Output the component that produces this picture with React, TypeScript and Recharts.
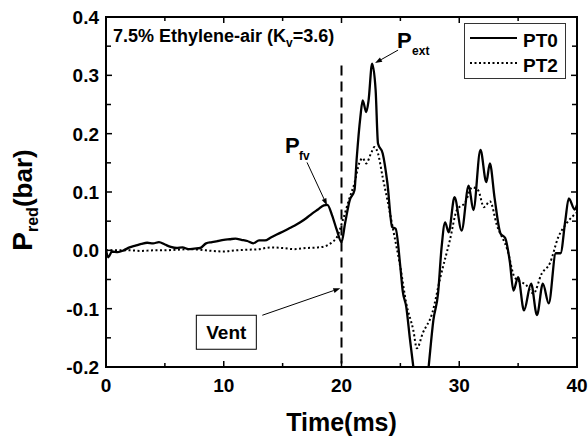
import React from 'react';
import {
  LineChart,
  Line,
  XAxis,
  YAxis,
  ReferenceLine,
  ReferenceArea,
  ReferenceDot,
  Legend,
  Label,
} from 'recharts';

// PT0 — solid trace (time in ms, pressure in bar)
const pt0Time = [
  0, 0.2, 0.5, 1, 1.5, 2, 2.5, 3, 3.5, 4, 4.5, 5, 5.5, 6, 6.5, 7, 7.5, 8, 8.5, 9, 9.5, 10, 10.5, 11,
  11.5, 12, 12.5, 13, 13.5, 14, 14.5, 15, 15.5, 16, 16.5, 17, 17.5, 18, 18.5, 18.8, 19.2, 19.6, 20.0,
  20.3, 20.7, 21.1, 21.3, 21.6, 21.8, 22.1, 22.3, 22.6, 22.9, 23.1, 23.5, 23.9, 24.3, 24.6, 25.0, 25.2,
  25.5, 25.8, 26.1, 26.6, 27.0, 27.4, 27.8, 28.2, 28.5, 28.8, 29.1, 29.6, 30.2, 30.8, 31.2, 31.8, 32.3,
  32.6, 33.0, 33.5, 33.9, 34.3, 34.6, 35.0, 35.5, 36.1, 36.6, 37.1, 37.6, 38.2, 38.6, 39.0, 39.3, 39.8,
  40,
];
const pt0Value = [
  0.0, -0.012, -0.002, -0.003, 0.0, 0.005, 0.008, 0.011, 0.013, 0.012, 0.014, 0.01, 0.006, 0.004, 0.005,
  0.002, 0.003, 0.004, 0.012, 0.014, 0.016, 0.018, 0.019, 0.02, 0.018, 0.016, 0.012, 0.017, 0.017, 0.022,
  0.027, 0.032, 0.037, 0.042, 0.048, 0.055, 0.063, 0.07, 0.077, 0.078, 0.06, 0.035, 0.014, 0.046, 0.086,
  0.103, 0.16, 0.228, 0.257, 0.237, 0.257, 0.32, 0.274, 0.183, 0.166, 0.115, 0.04, 0.037, -0.029, -0.07,
  -0.097, -0.15, -0.2, -0.27, -0.28, -0.2, -0.12, -0.074, 0.005, 0.048, 0.031, 0.091, 0.034, 0.111,
  0.069, 0.172, 0.117, 0.149, 0.09, 0.029, 0.021, -0.02, -0.069, -0.046, -0.103, -0.057, -0.111, -0.057,
  -0.091, -0.005, -0.005, 0.05, 0.089, 0.07, 0.078,
];

// PT2 — dotted trace
const pt2Time = [
  0, 1, 2, 3, 4, 5, 6, 7, 8, 9, 10, 11, 12, 13, 14, 15, 16, 17, 18, 18.6, 19.2, 19.6, 20.1, 20.7, 21.1,
  21.5, 21.8, 22.1, 22.5, 22.8, 23.1, 23.5, 23.9, 24.4, 25.0, 25.5, 26.1, 26.4, 26.9, 27.7, 28.4, 29.2,
  29.8, 30.5, 31.1, 31.6, 32.1, 32.6, 33.2, 34.1, 34.7, 35.7, 36.3, 37.0, 37.7, 38.4, 39.1, 40,
];
const pt2Value = [
  0.0, 0.0, 0.0, -0.001, 0.0, 0.0, 0.001, 0.002, 0.001, -0.001, -0.002, 0.0, 0.001, 0.002, 0.005, 0.004,
  0.002, 0.004, 0.005, 0.007, 0.014, 0.022, 0.051, 0.091, 0.115, 0.149, 0.158, 0.149, 0.166, 0.177,
  0.166, 0.125, 0.086, 0.034, -0.029, -0.091, -0.137, -0.168, -0.142, -0.108, -0.046, 0.017, 0.069,
  0.082, 0.108, 0.103, 0.074, 0.084, 0.043, 0.0, -0.046, -0.06, -0.074, -0.04, -0.022, 0.022, 0.046,
  0.065,
];

const xMajorTicks = [0, 10, 20, 30, 40];
const xMinorTicks = [5, 15, 25, 35];
const yMajorTicks = [-0.2, -0.1, 0, 0.1, 0.2, 0.3, 0.4];
const yMinorTicks = [-0.15, -0.05, 0.05, 0.15, 0.25, 0.35];
const seriesNames = ['PT0', 'PT2'];
const seriesDash = ['', '2 2.5'];

// annotation anchors
const ventTime = 20;
const ventTop = 0.317;
const ventArrowAt = { t: 19.9, p: -0.065 };
const extArrowAt = { t: 22.85, p: 0.321 };
const fvArrowAt = { t: 18.77, p: 0.077 };

const pt0Data = pt0Time.map((t, i) => ({ t, p: pt0Value[i] }));
const pt2Data = pt2Time.map((t, i) => ({ t, p: pt2Value[i] }));

const WIDTH = 580;
const HEIGHT = 431;
const PLOT_TOP = 9;
const PLOT_RIGHT = 569;
const FONT = '"Liberation Sans", Arial, Helvetica, sans-serif';

const isMajor = (v: number, list: number[]) => list.some((m) => Math.abs(m - v) < 1e-9);

function XTick({ x, y, payload }: any) {
  const v = payload.value;
  const major = isMajor(v, xMajorTicks);
  const len = major ? 6 : 4;
  return (
    <g>
      <line x1={x} y1={y} x2={x} y2={y - len} stroke="#000" strokeWidth={1.5} />
      <line x1={x} y1={PLOT_TOP} x2={x} y2={PLOT_TOP + len} stroke="#000" strokeWidth={1.5} />
      {major && (
        <text x={x} y={y + 25} textAnchor="middle" fontFamily={FONT} fontWeight="bold" fontSize={19} fill="#000">
          {v}
        </text>
      )}
    </g>
  );
}

function YTick({ x, y, payload }: any) {
  const v = payload.value;
  const major = isMajor(v, yMajorTicks);
  const len = major ? 6 : 5;
  return (
    <g>
      <line x1={x} y1={y} x2={x + len} y2={y} stroke="#000" strokeWidth={1.5} />
      <line x1={PLOT_RIGHT} y1={y} x2={PLOT_RIGHT - len} y2={y} stroke="#000" strokeWidth={1.5} />
      {major && (
        <text x={x - 7} y={y + 7} textAnchor="end" fontFamily={FONT} fontWeight="bold" fontSize={19} fill="#000">
          {v.toFixed(1)}
        </text>
      )}
    </g>
  );
}

function arrow(x1: number, y1: number, x2: number, y2: number) {
  const dx = x2 - x1;
  const dy = y2 - y1;
  const len = Math.hypot(dx, dy);
  const ux = dx / len;
  const uy = dy / len;
  const hl = 7;
  const hw = 2.5;
  const bx = x2 - ux * hl;
  const by = y2 - uy * hl;
  return (
    <g>
      <line x1={x1} y1={y1} x2={bx} y2={by} stroke="#000" strokeWidth={1} />
      <polygon
        points={`${x2},${y2} ${bx - uy * hw},${by + ux * hw} ${bx + uy * hw},${by - ux * hw}`}
        fill="#000"
      />
    </g>
  );
}

const txt = { fontFamily: FONT, fontWeight: 'bold' as const, fill: '#000' };

function TitleNote({ cx, cy }: any) {
  return (
    <text x={cx + 7} y={cy + 25} fontSize={18} {...txt}>
      7.5% Ethylene-air (K
      <tspan fontSize={12} dy={5}>v</tspan>
      <tspan dy={-5}>=3.6)</tspan>
    </text>
  );
}

function ExtNote({ cx, cy }: any) {
  return (
    <g>
      {arrow(cx + 23, cy - 13, cx, cy)}
      <text x={cx + 22} y={cy - 15} fontSize={22} {...txt}>P</text>
      <text x={cx + 37} y={cy - 8} fontSize={12} {...txt}>ext</text>
    </g>
  );
}

function FvNote({ cx, cy }: any) {
  return (
    <g>
      {arrow(cx - 20, cy - 43, cx, cy)}
      <text x={cx - 42} y={cy - 52} fontSize={22} {...txt}>P</text>
      <text x={cx - 28} y={cy - 45} fontSize={12} {...txt}>fv</text>
    </g>
  );
}

function VentNote({ cx, cy }: any) {
  return (
    <g>
      {arrow(cx - 78, cy + 27, cx, cy)}
      <rect x={cx - 144} y={cy + 27} width={60} height={34} fill="#fff" stroke="#000" strokeWidth={1} />
      <text x={cx - 114} y={cy + 51} textAnchor="middle" fontSize={19} {...txt}>Vent</text>
    </g>
  );
}

function LegendBox() {
  return (
    <svg width={102} height={56} style={{ display: 'block' }}>
      <rect x={0.5} y={0.5} width={101} height={55} fill="#fff" stroke="#333" strokeWidth={1} />
      {seriesNames.map((name, i) => (
        <g key={name}>
          <line
            x1={6}
            x2={53}
            y1={15 + i * 25}
            y2={15 + i * 25}
            stroke="#000"
            strokeWidth={i === 0 ? 2.2 : 2}
            strokeDasharray={seriesDash[i] || undefined}
          />
          <text x={59} y={24 + i * 25} fontSize={19} {...txt}>
            {name}
          </text>
        </g>
      ))}
    </svg>
  );
}

function YTitle({ viewBox }: any) {
  const cx = viewBox.x - 14;
  const cy = viewBox.y + viewBox.height / 2 + 8;
  return (
    <text x={cx} y={cy} transform={`rotate(-90, ${cx}, ${cy})`} textAnchor="middle" fontSize={26} {...txt}>
      <tspan fontSize={28}>P</tspan>
      <tspan fontSize={16} dy={6}>red</tspan>
      <tspan dy={-6}>(bar)</tspan>
    </text>
  );
}

function XTitle({ viewBox }: any) {
  return (
    <text x={viewBox.x + viewBox.width / 2} y={viewBox.y + 64} textAnchor="middle" fontSize={25} {...txt}>
      Time(ms)
    </text>
  );
}

export default function App() {
  return (
    <div style={{ position: 'absolute', left: 8, top: 8, width: WIDTH, height: HEIGHT, background: '#fff' }}>
      <LineChart width={WIDTH} height={HEIGHT} margin={{ top: 9, right: WIDTH - PLOT_RIGHT, bottom: 42, left: 38 }}>
        <XAxis
          type="number"
          dataKey="t"
          domain={[0, 40]}
          allowDataOverflow
          ticks={[...xMajorTicks, ...xMinorTicks].sort((a, b) => a - b)}
          interval={0}
          tick={<XTick />}
          tickLine={false}
          tickSize={0}
          tickMargin={0}
          axisLine={{ stroke: '#000', strokeWidth: 2 }}
          height={30}
        >
          <Label content={<XTitle />} />
        </XAxis>
        <YAxis
          type="number"
          domain={[-0.2, 0.4]}
          allowDataOverflow
          ticks={[...yMajorTicks, ...yMinorTicks].sort((a, b) => a - b)}
          interval={0}
          tick={<YTick />}
          tickLine={false}
          tickSize={0}
          tickMargin={0}
          axisLine={{ stroke: '#000', strokeWidth: 2 }}
          width={60}
        >
          <Label content={<YTitle />} />
        </YAxis>
        <ReferenceArea x1={0} x2={40} y1={-0.2} y2={0.4} fill="none" stroke="#000" strokeWidth={2} ifOverflow="visible" />
        <ReferenceLine
          segment={[
            { x: ventTime, y: ventTop },
            { x: ventTime, y: -0.2 },
          ]}
          stroke="#000"
          strokeWidth={2}
          strokeDasharray="10 6"
        />
        <Line
          data={pt2Data}
          dataKey="p"
          name={seriesNames[1]}
          type="monotone"
          stroke="#000"
          strokeWidth={2}
          strokeDasharray={seriesDash[1]}
          dot={false}
          isAnimationActive={false}
        />
        <Line
          data={pt0Data}
          dataKey="p"
          name={seriesNames[0]}
          type="monotone"
          stroke="#000"
          strokeWidth={2.3}
          dot={false}
          isAnimationActive={false}
        />
        <ReferenceDot x={0} y={0.4} r={0} ifOverflow="visible" shape={(p: any) => <TitleNote {...p} />} />
        <ReferenceDot x={extArrowAt.t} y={extArrowAt.p} r={0} ifOverflow="visible" shape={(p: any) => <ExtNote {...p} />} />
        <ReferenceDot x={fvArrowAt.t} y={fvArrowAt.p} r={0} ifOverflow="visible" shape={(p: any) => <FvNote {...p} />} />
        <ReferenceDot x={ventArrowAt.t} y={ventArrowAt.p} r={0} ifOverflow="visible" shape={(p: any) => <VentNote {...p} />} />
        <Legend
          layout="horizontal"
          verticalAlign="middle"
          align="center"
          wrapperStyle={{ left: 456, top: 15, width: 102, height: 56 }}
          content={() => <LegendBox />}
        />
      </LineChart>
    </div>
  );
}
